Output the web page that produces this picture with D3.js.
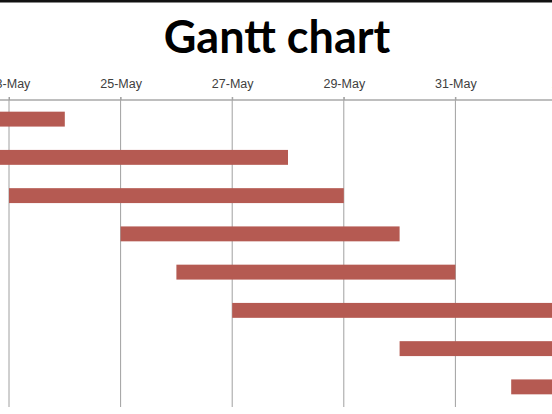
<!DOCTYPE html>
<html lang="en">
<head>
  <meta charset="UTF-8">
  <title>Gantt chart</title>
  <script src="https://d3js.org/d3.v7.min.js"></script>
  <style>
    body { margin: 0; background: #fff; }
    svg { display: block; font-family: Lato, "Liberation Sans", sans-serif; }
    .tick text { fill: #404040; font-size: 12.5px; }
  </style>
</head>
<body>
  <svg width="552" height="414"></svg>
  <script>
    // tasks (labels sit left of the visible area)
    const tasks = ["Task 1", "Task 2", "Task 3", "Task 4", "Task 5", "Task 6", "Task 7", "Task 8"];
    const startDates = ["2013-05-20", "2013-05-21", "2013-05-23", "2013-05-25", "2013-05-26", "2013-05-27", "2013-05-30", "2013-06-01"];
    const endDates   = ["2013-05-24", "2013-05-28", "2013-05-29", "2013-05-30", "2013-05-31", "2013-06-03", "2013-06-04", "2013-06-03"];
    const tickDates  = ["2013-05-21", "2013-05-23", "2013-05-25", "2013-05-27", "2013-05-29", "2013-05-31", "2013-06-02"];
    const axisSpan   = ["2013-05-19", "2013-06-05"];

    const parse = d3.utcParse("%Y-%m-%d");
    const fmt = d3.utcFormat("%-d-%b");

    const data = tasks.map((t, i) => ({
      task: t,
      start: parse(startDates[i]),
      end: parse(endDates[i])
    }));

    const svg = d3.select("svg");
    const plotTop = 100, plotBottom = 406;

    const x = d3.scaleUtc()
      .domain([parse("2013-05-23"), parse("2013-06-02")])
      .range([9, 567]);

    const y = d3.scaleBand()
      .domain(tasks)
      .range([plotTop, plotBottom])
      .paddingInner(0.61)
      .paddingOuter(0.305);

    // frame edge at the top
    svg.append("rect")
      .attr("x", 0).attr("y", 0)
      .attr("width", 552).attr("height", 2.5)
      .attr("fill", "#111");

    // title
    svg.append("text")
      .attr("x", 277)
      .attr("y", 53)
      .attr("text-anchor", "middle")
      .attr("font-size", 45)
      .attr("font-weight", "bold")
      .attr("fill", "#000")
      .text("Gantt chart");

    // vertical gridlines
    svg.append("g")
      .selectAll("line")
      .data(tickDates.map(parse))
      .join("line")
      .attr("x1", d => x(d)).attr("x2", d => x(d))
      .attr("y1", plotTop - 3).attr("y2", plotBottom + 1)
      .attr("stroke", "#a0a0a0")
      .attr("stroke-width", 1);

    // axis line
    svg.append("line")
      .attr("x1", x(parse(axisSpan[0]))).attr("x2", x(parse(axisSpan[1])))
      .attr("y1", plotTop).attr("y2", plotTop)
      .attr("stroke", "#a8a8a8")
      .attr("stroke-width", 1.5);

    // tick labels
    const xAxis = d3.axisTop(x)
      .tickValues(tickDates.map(parse))
      .tickFormat(fmt)
      .tickSize(3)
      .tickPadding(9);

    svg.append("g")
      .attr("transform", `translate(0,${plotTop})`)
      .call(xAxis)
      .call(g => g.select(".domain").remove())
      .call(g => g.selectAll(".tick line").attr("stroke", "#a0a0a0"));

    // bars
    svg.append("g")
      .selectAll("rect")
      .data(data)
      .join("rect")
      .attr("x", d => x(d.start))
      .attr("y", d => y(d.task))
      .attr("width", d => x(d.end) - x(d.start))
      .attr("height", y.bandwidth())
      .attr("fill", "#b55a52");
  </script>
</body>
</html>
